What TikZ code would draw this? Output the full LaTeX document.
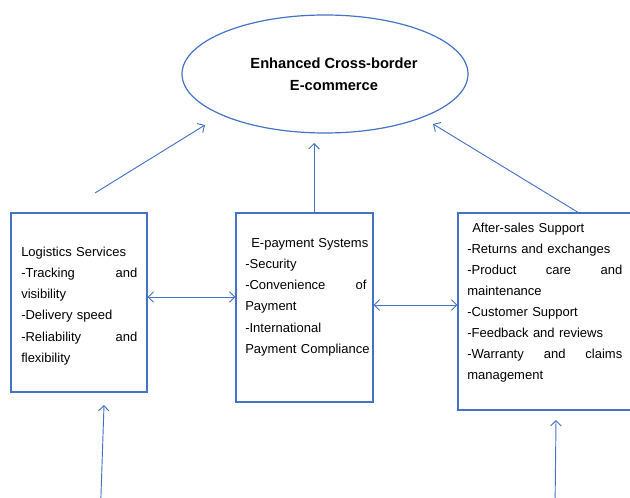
\documentclass[tikz,border=0pt]{standalone}
\usepackage{fontspec}
\setmainfont{Liberation Sans}
\usetikzlibrary{positioning,arrows.meta,shapes.geometric}
\definecolor{lineblue}{HTML}{4472C4}

\begin{document}
\begin{tikzpicture}[x=0.75pt, y=-0.75pt,
  every node/.style={font={\fontsize{9.75}{15.75}\selectfont}},
  goal/.style={draw=lineblue, ellipse, line width=0.9pt, minimum width=214.5pt, minimum height=88.5pt, inner sep=0pt},
  box/.style={draw=lineblue, rectangle, line width=1pt, inner sep=0pt},
  txt/.style={anchor=base west, align=left, inner sep=0pt},
  link/.style={-{Straight Barb[length=4pt,width=8pt]}, draw=lineblue, line width=0.7pt},
  both/.style={{Straight Barb[length=4pt,width=8pt]}-{Straight Barb[length=4pt,width=8pt]}, draw=lineblue, line width=0.7pt}]
\useasboundingbox (0,0) rectangle (630,498);
\clip (0,0) rectangle (630,498);

% goal on top
\node[goal] (goal) at (325,74) {};
\node[align=center, font={\fontsize{11}{16.5}\selectfont\bfseries}] (title) at (334,74) {Enhanced Cross-border\\E-commerce};

% the three boxes
\node[box, minimum width=102pt, minimum height=134.25pt] (log) at (79,302.5) {};
\node[box, minimum width=102.75pt, minimum height=141.75pt] (pay) at (304.5,307.5) {};
\node[box, minimum width=136.5pt, minimum height=147.75pt] (after) at (549,311.5) {};

\node[txt, text width=87pt] (logtxt) at (21,257) {\mbox{Logistics Services}\\
-Tracking \hfill and\\
visibility\\
-Delivery speed\\
-Reliability \hfill and\\
flexibility};
\node[txt, text width=91pt] (paytxt) at (245,248) {\mbox{\hspace*{4.5pt}E-payment Systems}\\
-Security\\
-Convenience \hfill of\\
Payment\\
-International\\
\mbox{Payment Compliance}};
\node[txt, text width=116.25pt] (aftertxt) at (467,233) {\mbox{\hspace*{3.75pt}After-sales Support}\\
\mbox{-Returns and exchanges}\\
-Product \hfill care \hfill and\\
maintenance\\
-Customer Support\\
-Feedback and reviews\\
-Warranty \hfill and \hfill claims\\
management};

% free ends
\coordinate (logup) at (95,193);
\coordinate (goalL) at (205,125);
\coordinate (goalM) at (314,143);
\coordinate (goalR) at (433,124);
\coordinate (inL) at (100.5,510);
\coordinate (inR) at (555,510);

\draw[link] (logup) -- (goalL);
\draw[link] (pay.north -| goalM) -- (goalM);
\draw[link] (after.north -| 578,0) -- (goalR);
\draw[both] (log.east |- 0,297) -- (pay.west |- 0,297);
\draw[both] (pay.east |- 0,305) -- (after.west |- 0,305);
\draw[link] (inL) -- (104,405);
\draw[link] (inR) -- (556,420);
\end{tikzpicture}
\end{document}
